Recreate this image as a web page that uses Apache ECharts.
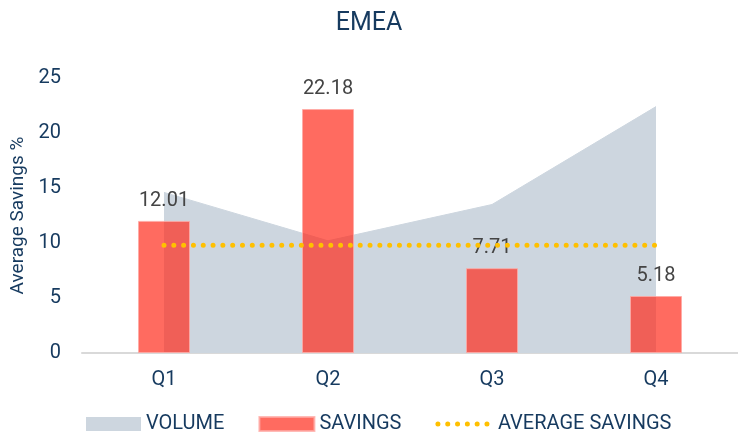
<!DOCTYPE html>
<html>
<head>
<meta charset="utf-8">
<script src="https://cdn.jsdelivr.net/npm/echarts@6/dist/echarts.min.js"></script>
<style>
  html, body { margin: 0; padding: 0; background: #fff; }
  #chart { width: 738px; height: 438px; }
</style>
</head>
<body>
<div id="chart"></div>
<script>
// quarters on the x axis
const quarters = ['Q1', 'Q2', 'Q3', 'Q4']
// background volume area (read on the same scale)
const volume = [14.6, 10.2, 13.5, 22.4]
// savings bars
const savings = [12.01, 22.18, 7.71, 5.18]
// average savings reference line
const averageSavings = [9.8, 9.8, 9.8, 9.8]

const navy = '#163a5f'
const dotted = { width: 5, type: [0.01, 9.8], cap: 'round' }
const chart = echarts.init(document.getElementById('chart'))

const option = {
  textStyle: { fontFamily: 'Roboto' },
  title: {
    text: 'EMEA',
    left: 'center',
    top: 6,
    textStyle: { fontSize: 25, fontWeight: 'normal', color: navy, fontFamily: 'Roboto' }
  },
  legend: {
    bottom: -1,
    left: 81,
    itemWidth: 55,
    itemHeight: 14,
    itemGap: 34,
    textStyle: { fontSize: 20, color: navy },
    data: [
      { name: 'VOLUME', icon: 'rect' },
      { name: 'SAVINGS', icon: 'rect' },
      {
        name: 'AVERAGE SAVINGS',
        itemStyle: { opacity: 0 },
        lineStyle: Object.assign({ color: '#ffc000' }, dotted)
      }
    ]
  },
  grid: { left: 82, right: 0, top: 78, bottom: 85 },
  xAxis: {
    type: 'category',
    data: quarters,
    axisTick: { show: false },
    axisLine: { lineStyle: { color: '#d9d9d9', width: 2 } },
    axisLabel: { fontSize: 20, color: navy, margin: 17 }
  },
  yAxis: {
    type: 'value',
    min: 0,
    max: 25,
    interval: 5,
    name: 'Average Savings %',
    nameLocation: 'middle',
    nameGap: 43,
    nameTextStyle: { fontSize: 19, color: navy },
    axisLine: { show: false },
    axisTick: { show: false },
    splitLine: { show: false },
    axisLabel: { fontSize: 20, color: navy, margin: 21 }
  },
  series: [
    {
      name: 'VOLUME',
      type: 'line',
      data: volume,
      symbol: 'none',
      itemStyle: { color: '#cdd6df' },
      lineStyle: { color: '#cdd6df', width: 1 },
      areaStyle: { color: '#cdd6df', opacity: 1 },
      z: 1
    },
    {
      name: 'SAVINGS',
      type: 'bar',
      data: savings,
      barWidth: 52,
      itemStyle: {
        color: 'rgba(255, 44, 29, 0.7)',
        borderColor: 'rgba(255, 170, 165, 0.8)',
        borderWidth: 1
      },
      label: {
        show: true,
        position: 'top',
        distance: 10,
        fontSize: 20,
        color: '#444'
      },
      z: 2
    },
    {
      name: 'AVERAGE SAVINGS',
      type: 'line',
      data: averageSavings,
      symbol: 'none',
      itemStyle: { color: '#ffc000' },
      lineStyle: Object.assign({ color: '#ffc000' }, dotted),
      z: 3
    }
  ]
}

chart.setOption(option)
</script>
</body>
</html>
